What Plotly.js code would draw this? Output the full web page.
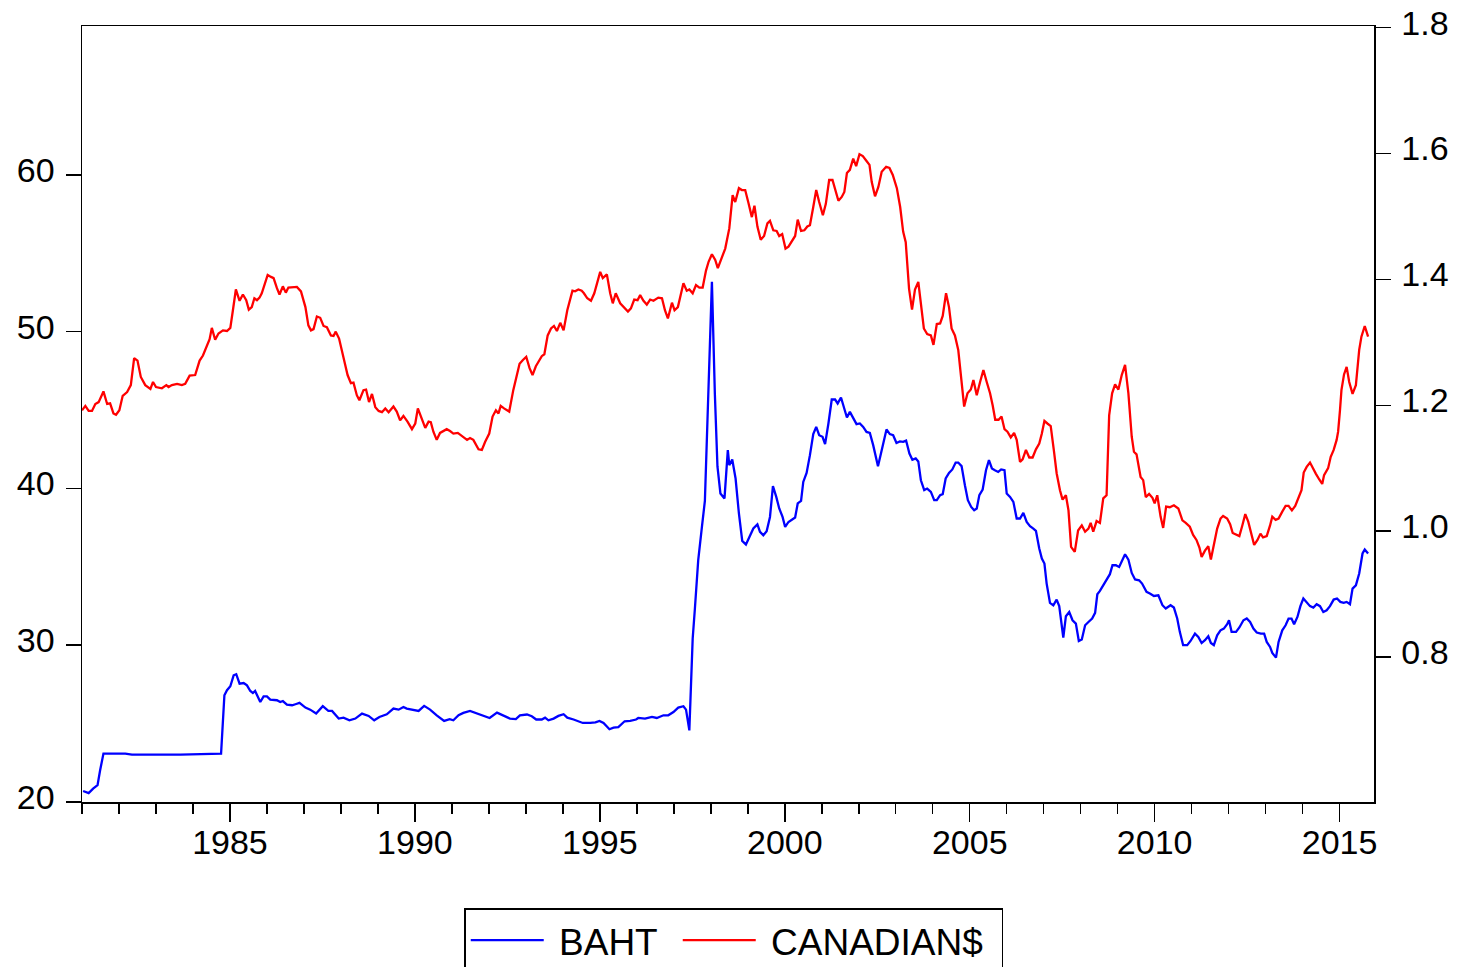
<!DOCTYPE html>
<html>
<head>
<meta charset="utf-8">
<script src="https://cdn.plot.ly/plotly-3.0.1.min.js"></script>
<style>html,body{margin:0;padding:0;background:#fff;}#chart{width:1461px;height:967px;}</style>
</head>
<body>
<div id="chart"></div>
<script>
// Decimal-year positions
const bahtX = [1981.03,1981.18,1981.30,1981.42,1981.49,1981.58,1982.17,1982.35,1983.66,1984.47,1984.76,1984.85,1984.92,1985.01,1985.10,1985.17,1985.26,1985.37,1985.46,1985.55,1985.62,1985.68,1985.75,1985.82,1985.91,1986.00,1986.09,1986.27,1986.36,1986.43,1986.54,1986.68,1986.79,1986.88,1987.04,1987.17,1987.33,1987.51,1987.66,1987.76,1987.94,1988.07,1988.23,1988.39,1988.57,1988.75,1988.90,1989.04,1989.24,1989.42,1989.56,1989.69,1989.78,1989.92,1990.10,1990.25,1990.41,1990.59,1990.79,1990.94,1991.04,1991.18,1991.31,1991.49,1991.68,1991.85,1992.02,1992.22,1992.39,1992.57,1992.73,1992.84,1993.03,1993.16,1993.28,1993.43,1993.52,1993.61,1993.75,1993.88,1994.02,1994.12,1994.29,1994.42,1994.54,1994.74,1994.88,1994.99,1995.10,1995.26,1995.37,1995.50,1995.67,1995.82,1995.98,1996.04,1996.22,1996.41,1996.54,1996.72,1996.85,1996.99,1997.12,1997.26,1997.33,1997.42,1997.51,1997.57,1997.66,1997.76,1997.84,1997.91,1998.03,1998.11,1998.18,1998.26,1998.37,1998.46,1998.50,1998.58,1998.67,1998.76,1998.85,1998.95,1999.03,1999.15,1999.26,1999.33,1999.42,1999.51,1999.60,1999.68,1999.77,1999.85,1999.94,2000.01,2000.10,2000.19,2000.28,2000.35,2000.44,2000.50,2000.59,2000.68,2000.77,2000.85,2000.93,2001.02,2001.09,2001.18,2001.27,2001.36,2001.43,2001.52,2001.60,2001.68,2001.76,2001.85,2001.94,2002.03,2002.12,2002.21,2002.30,2002.39,2002.46,2002.52,2002.60,2002.68,2002.75,2002.84,2002.93,2003.02,2003.11,2003.20,2003.28,2003.37,2003.45,2003.54,2003.61,2003.68,2003.77,2003.85,2003.95,2004.04,2004.11,2004.20,2004.27,2004.35,2004.44,2004.53,2004.62,2004.69,2004.78,2004.87,2004.95,2005.04,2005.12,2005.19,2005.26,2005.35,2005.44,2005.52,2005.60,2005.68,2005.77,2005.85,2005.94,2006.00,2006.09,2006.18,2006.27,2006.36,2006.45,2006.54,2006.63,2006.72,2006.79,2006.88,2006.95,2007.02,2007.08,2007.17,2007.26,2007.35,2007.42,2007.53,2007.60,2007.69,2007.78,2007.87,2007.95,2008.03,2008.12,2008.21,2008.31,2008.39,2008.45,2008.52,2008.61,2008.70,2008.79,2008.86,2008.95,2009.04,2009.11,2009.20,2009.29,2009.38,2009.47,2009.58,2009.66,2009.78,2009.87,2009.98,2010.10,2010.21,2010.30,2010.43,2010.52,2010.61,2010.68,2010.77,2010.88,2010.97,2011.09,2011.18,2011.27,2011.36,2011.45,2011.52,2011.60,2011.69,2011.78,2011.87,2011.96,2012.01,2012.08,2012.20,2012.29,2012.40,2012.49,2012.58,2012.67,2012.76,2012.87,2012.96,2013.03,2013.12,2013.18,2013.28,2013.35,2013.45,2013.54,2013.62,2013.70,2013.77,2013.86,2013.94,2014.02,2014.11,2014.20,2014.29,2014.38,2014.47,2014.56,2014.65,2014.74,2014.84,2014.93,2015.02,2015.11,2015.19,2015.28,2015.35,2015.44,2015.53,2015.62,2015.68,2015.77];
const bahtY = [20.70,20.57,20.85,21.07,22.02,23.09,23.09,23.02,23.02,23.04,23.09,26.81,27.13,27.38,28.08,28.15,27.55,27.59,27.44,27.08,26.95,27.08,26.70,26.38,26.74,26.74,26.53,26.49,26.38,26.44,26.21,26.17,26.25,26.32,26.02,25.89,25.64,26.11,25.81,25.81,25.32,25.38,25.21,25.32,25.64,25.49,25.21,25.42,25.59,25.96,25.89,26.06,25.96,25.89,25.81,26.13,25.89,25.53,25.17,25.28,25.21,25.53,25.68,25.81,25.64,25.49,25.36,25.70,25.53,25.32,25.29,25.53,25.58,25.47,25.26,25.26,25.38,25.21,25.32,25.49,25.60,25.38,25.26,25.15,25.04,25.04,25.08,25.17,25.04,24.64,24.74,24.78,25.15,25.17,25.26,25.36,25.32,25.43,25.36,25.53,25.53,25.74,26.02,26.11,25.89,24.57,30.42,32.34,35.42,37.54,39.20,44.35,53.17,46.00,41.40,39.67,39.36,42.44,41.48,41.84,40.63,38.40,36.65,36.42,36.80,37.44,37.70,37.23,37.01,37.27,38.18,40.14,39.46,38.72,38.18,37.54,37.86,38.03,38.14,39.04,39.20,40.41,40.99,42.12,43.46,43.92,43.39,43.29,42.82,44.14,45.67,45.67,45.42,45.80,45.20,44.52,44.88,44.52,44.10,44.14,43.92,43.60,43.54,42.76,42.01,41.42,42.23,42.97,43.76,43.46,43.39,42.90,43.00,42.97,43.05,42.22,41.82,41.91,41.72,40.52,39.89,39.99,39.78,39.25,39.25,39.57,39.63,40.63,40.99,41.21,41.65,41.65,41.42,40.20,39.25,38.82,38.61,38.72,39.57,39.93,41.16,41.80,41.27,41.16,41.05,41.21,41.16,39.67,39.46,39.14,38.08,38.08,38.44,37.86,37.59,37.44,37.29,36.17,35.53,35.21,33.93,32.70,32.55,32.91,32.49,30.49,31.85,32.12,31.59,31.38,30.27,30.36,31.27,31.48,31.70,32.06,33.25,33.46,33.82,34.25,34.53,35.10,35.10,34.99,35.37,35.80,35.46,34.61,34.19,34.14,33.93,33.40,33.30,33.14,33.18,32.55,32.34,32.55,32.40,31.70,30.85,30.00,30.00,30.27,30.74,30.53,30.14,30.32,30.57,30.14,30.00,30.63,30.95,31.06,31.34,31.59,30.85,30.85,31.13,31.59,31.70,31.48,31.06,30.81,30.74,30.74,30.21,29.89,29.51,29.21,30.21,30.95,31.27,31.70,31.70,31.34,31.80,32.49,32.98,32.76,32.49,32.40,32.61,32.49,32.12,32.23,32.49,32.91,32.98,32.76,32.70,32.76,32.61,33.61,33.82,34.57,35.85,36.10,35.85];

const cadX = [1981.00,1981.09,1981.18,1981.27,1981.36,1981.45,1981.58,1981.68,1981.76,1981.85,1981.92,1982.01,1982.10,1982.22,1982.32,1982.41,1982.50,1982.59,1982.71,1982.85,1982.92,1983.00,1983.16,1983.28,1983.34,1983.43,1983.57,1983.70,1983.79,1983.91,1984.06,1984.18,1984.27,1984.38,1984.45,1984.51,1984.60,1984.69,1984.81,1984.92,1985.01,1985.08,1985.16,1985.26,1985.35,1985.44,1985.51,1985.59,1985.66,1985.73,1985.80,1985.86,1985.93,1986.02,1986.11,1986.18,1986.27,1986.34,1986.43,1986.51,1986.58,1986.72,1986.81,1986.92,1987.04,1987.12,1987.19,1987.26,1987.35,1987.44,1987.53,1987.62,1987.73,1987.80,1987.86,1987.95,1988.07,1988.18,1988.27,1988.34,1988.43,1988.50,1988.61,1988.68,1988.76,1988.84,1988.93,1989.02,1989.11,1989.20,1989.29,1989.42,1989.51,1989.60,1989.69,1989.80,1989.92,1990.01,1990.08,1990.19,1990.28,1990.37,1990.43,1990.50,1990.59,1990.68,1990.77,1990.86,1990.95,1991.04,1991.16,1991.27,1991.41,1991.49,1991.58,1991.72,1991.81,1991.90,1992.01,1992.10,1992.19,1992.26,1992.32,1992.41,1992.55,1992.66,1992.83,1992.92,1993.01,1993.10,1993.18,1993.27,1993.37,1993.43,1993.50,1993.59,1993.68,1993.76,1993.84,1993.93,1994.02,1994.12,1994.26,1994.33,1994.42,1994.51,1994.57,1994.66,1994.76,1994.85,1995.01,1995.08,1995.19,1995.28,1995.35,1995.43,1995.55,1995.64,1995.76,1995.84,1995.93,1996.02,1996.09,1996.18,1996.27,1996.36,1996.45,1996.58,1996.68,1996.76,1996.84,1996.95,1997.02,1997.11,1997.26,1997.35,1997.42,1997.51,1997.60,1997.69,1997.78,1997.87,1997.94,1998.03,1998.12,1998.19,1998.28,1998.39,1998.50,1998.59,1998.66,1998.76,1998.84,1998.93,1999.02,1999.11,1999.18,1999.26,1999.35,1999.44,1999.53,1999.60,1999.69,1999.78,1999.85,1999.93,2000.02,2000.10,2000.28,2000.35,2000.44,2000.53,2000.61,2000.68,2000.77,2000.85,2000.93,2001.03,2001.11,2001.20,2001.29,2001.36,2001.45,2001.54,2001.61,2001.68,2001.76,2001.85,2001.93,2002.02,2002.11,2002.20,2002.29,2002.35,2002.44,2002.53,2002.62,2002.74,2002.83,2002.92,2003.03,2003.12,2003.20,2003.27,2003.36,2003.44,2003.52,2003.61,2003.68,2003.76,2003.85,2003.95,2004.02,2004.11,2004.20,2004.27,2004.36,2004.44,2004.51,2004.60,2004.69,2004.76,2004.85,2004.94,2005.03,2005.10,2005.19,2005.28,2005.37,2005.46,2005.55,2005.62,2005.69,2005.78,2005.86,2005.94,2006.02,2006.11,2006.20,2006.27,2006.36,2006.43,2006.52,2006.61,2006.70,2006.79,2006.88,2006.95,2007.02,2007.10,2007.19,2007.28,2007.35,2007.44,2007.51,2007.60,2007.67,2007.74,2007.84,2007.93,2008.03,2008.12,2008.21,2008.27,2008.34,2008.43,2008.52,2008.61,2008.70,2008.77,2008.85,2008.93,2009.02,2009.11,2009.20,2009.29,2009.38,2009.44,2009.51,2009.62,2009.69,2009.76,2009.85,2009.94,2010.00,2010.07,2010.16,2010.23,2010.31,2010.41,2010.52,2010.64,2010.75,2010.84,2010.95,2011.04,2011.13,2011.21,2011.27,2011.36,2011.45,2011.52,2011.60,2011.69,2011.78,2011.85,2011.96,2012.04,2012.11,2012.20,2012.29,2012.37,2012.45,2012.53,2012.61,2012.69,2012.78,2012.86,2012.93,2013.03,2013.12,2013.18,2013.27,2013.35,2013.45,2013.54,2013.62,2013.71,2013.80,2013.89,2013.97,2014.03,2014.11,2014.20,2014.27,2014.36,2014.45,2014.53,2014.58,2014.69,2014.76,2014.84,2014.92,2014.96,2015.01,2015.05,2015.12,2015.19,2015.26,2015.35,2015.44,2015.53,2015.59,2015.68,2015.77];
const cadY = [1.192,1.199,1.191,1.191,1.202,1.205,1.222,1.202,1.203,1.187,1.185,1.192,1.215,1.221,1.232,1.275,1.271,1.245,1.232,1.226,1.237,1.229,1.227,1.232,1.229,1.232,1.234,1.232,1.234,1.247,1.248,1.271,1.279,1.296,1.305,1.323,1.304,1.314,1.319,1.318,1.323,1.351,1.384,1.366,1.376,1.367,1.352,1.356,1.370,1.367,1.371,1.378,1.391,1.407,1.404,1.402,1.386,1.376,1.389,1.379,1.387,1.388,1.388,1.381,1.356,1.327,1.319,1.321,1.341,1.339,1.326,1.324,1.311,1.310,1.317,1.306,1.274,1.248,1.235,1.236,1.216,1.208,1.224,1.225,1.205,1.218,1.197,1.191,1.189,1.195,1.189,1.198,1.190,1.176,1.183,1.174,1.162,1.171,1.195,1.177,1.164,1.174,1.173,1.158,1.145,1.156,1.159,1.162,1.159,1.155,1.156,1.151,1.145,1.148,1.145,1.130,1.129,1.142,1.155,1.182,1.192,1.187,1.199,1.195,1.190,1.224,1.266,1.272,1.277,1.259,1.248,1.262,1.271,1.278,1.281,1.311,1.322,1.326,1.318,1.331,1.319,1.351,1.382,1.381,1.384,1.382,1.378,1.370,1.366,1.378,1.412,1.402,1.408,1.378,1.362,1.378,1.362,1.356,1.349,1.354,1.368,1.367,1.375,1.366,1.360,1.368,1.366,1.371,1.370,1.351,1.338,1.363,1.351,1.356,1.394,1.382,1.384,1.378,1.391,1.387,1.387,1.414,1.428,1.440,1.431,1.418,1.431,1.449,1.481,1.534,1.523,1.545,1.542,1.542,1.521,1.499,1.517,1.484,1.463,1.469,1.489,1.493,1.478,1.477,1.469,1.472,1.449,1.452,1.469,1.495,1.477,1.478,1.484,1.486,1.515,1.542,1.523,1.502,1.520,1.558,1.558,1.545,1.525,1.531,1.539,1.569,1.574,1.592,1.580,1.599,1.596,1.589,1.582,1.555,1.532,1.547,1.571,1.579,1.577,1.566,1.545,1.515,1.476,1.459,1.385,1.352,1.384,1.396,1.362,1.322,1.313,1.311,1.296,1.329,1.330,1.342,1.378,1.356,1.322,1.311,1.288,1.245,1.198,1.219,1.225,1.240,1.216,1.237,1.256,1.237,1.219,1.200,1.177,1.177,1.182,1.162,1.158,1.149,1.156,1.145,1.110,1.114,1.129,1.117,1.117,1.130,1.139,1.155,1.175,1.171,1.167,1.126,1.092,1.065,1.050,1.057,1.033,0.975,0.967,1.001,1.009,0.999,1.004,1.013,0.999,1.016,1.013,1.052,1.057,1.184,1.219,1.233,1.225,1.248,1.264,1.219,1.150,1.126,1.122,1.086,1.081,1.054,1.059,1.053,1.044,1.057,1.023,1.005,1.039,1.038,1.041,1.036,1.017,1.013,1.007,0.994,0.986,0.974,0.959,0.969,0.976,0.955,0.980,1.004,1.020,1.024,1.020,1.011,0.997,0.994,0.992,1.009,1.027,1.015,0.994,0.978,0.986,0.996,0.990,0.992,1.009,1.023,1.018,1.020,1.031,1.040,1.040,1.033,1.040,1.052,1.065,1.093,1.102,1.109,1.100,1.091,1.082,1.075,1.089,1.100,1.118,1.129,1.145,1.158,1.192,1.224,1.249,1.261,1.237,1.218,1.232,1.288,1.309,1.326,1.309];

const xTickVals = [1985, 1990, 1995, 2000, 2005, 2010, 2015];
const xTickText = ['1985', '1990', '1995', '2000', '2005', '2010', '2015'];
const xMinorVals = [1981,1982,1983,1984,1986,1987,1988,1989,1991,1992,1993,1994,1996,1997,1998,1999,2001,2002,2003,2004,2006,2007,2008,2009,2011,2012,2013,2014];
const leftTickVals = [20, 30, 40, 50, 60];
const rightTickVals = [0.8, 1.0, 1.2, 1.4, 1.6, 1.8];
const rightTickText = ['0.8', '1.0', '1.2', '1.4', '1.6', '1.8'];

const FONT = 'Liberation Sans, Arial, Helvetica, sans-serif';

const traces = [
  {x: bahtX, y: bahtY, name: '\u00a0BAHT', type: 'scatter', mode: 'lines',
   line: {color: '#0000ff', width: 2.3}, yaxis: 'y', legendwidth: 124},
  {x: cadX, y: cadY, name: '\u00a0CANADIAN$', type: 'scatter', mode: 'lines',
   line: {color: '#ff0000', width: 2.3}, yaxis: 'y2', legendwidth: 236}
];

const layout = {
  width: 1461, height: 967,
  margin: {l: 82, r: 87, t: 26, b: 165, pad: 0, autoexpand: false},
  paper_bgcolor: '#ffffff', plot_bgcolor: '#ffffff',
  font: {family: FONT, color: '#000', size: 34},
  showlegend: true,
  legend: {
    orientation: 'h', x: 0.5046, xanchor: 'center', y: -0.137, yanchor: 'top',
    bordercolor: '#000', borderwidth: 1.3, bgcolor: '#fff',
    font: {family: FONT, size: 37, color: '#000'}, itemwidth: 73
  },
  xaxis: {
    range: [1981.0, 2015.93], tickvals: xTickVals, ticktext: xTickText,
    ticks: 'outside', ticklen: 18, tickwidth: 1.5, tickcolor: '#000',
    ticklabelstandoff: -8,
    showline: true, linewidth: 1.5, linecolor: '#000', mirror: true,
    showgrid: false, zeroline: false,
    tickfont: {family: FONT, size: 34, color: '#000'},
    minor: {tickvals: xMinorVals, ticks: 'outside', ticklen: 10, tickwidth: 1.5, tickcolor: '#000', showgrid: false}
  },
  yaxis: {
    range: [20, 69.49], tickvals: leftTickVals,
    ticks: 'outside', ticklen: 15, tickwidth: 1.5, tickcolor: '#000',
    ticklabelstandoff: 4, ticklabelshift: -5,
    showline: true, linewidth: 1.5, linecolor: '#000', mirror: false,
    showgrid: false, zeroline: false,
    tickfont: {family: FONT, size: 34, color: '#000'}
  },
  yaxis2: {
    range: [0.5695, 1.8027], tickvals: rightTickVals, ticktext: rightTickText,
    overlaying: 'y', side: 'right',
    ticks: 'outside', ticklen: 15, tickwidth: 1.5, tickcolor: '#000',
    ticklabelstandoff: 4, ticklabelshift: -5,
    showline: true, linewidth: 1.5, linecolor: '#000',
    showgrid: false, zeroline: false,
    tickfont: {family: FONT, size: 34, color: '#000'}
  }
};

Plotly.newPlot('chart', traces, layout, {displayModeBar: false, staticPlot: true});
</script>
</body>
</html>
